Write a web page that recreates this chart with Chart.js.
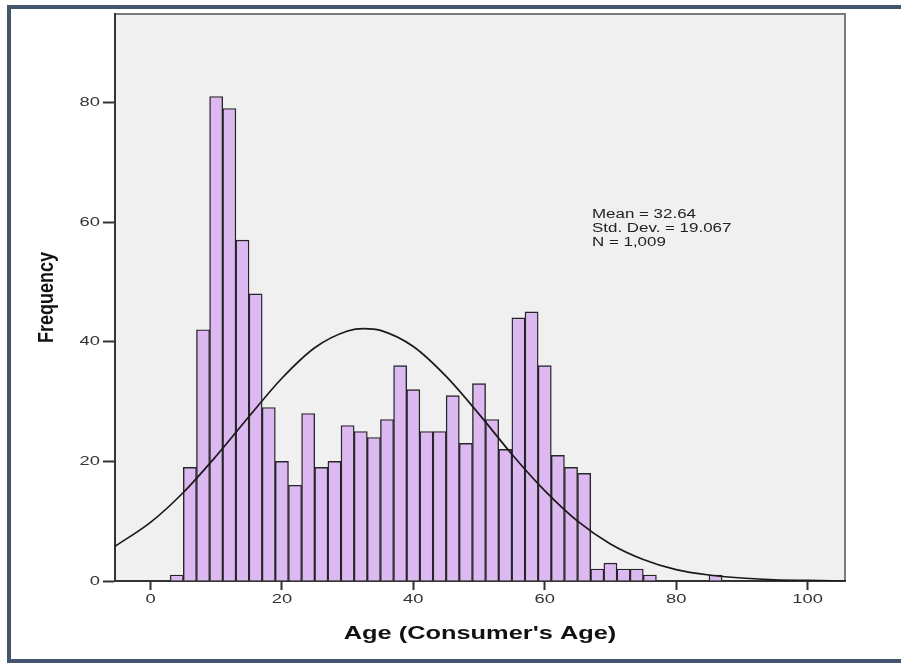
<!DOCTYPE html>
<html>
<head>
<meta charset="utf-8">
<script src="https://cdn.jsdelivr.net/npm/chart.js@4/dist/chart.umd.min.js"></script>
<style>
    html, body { margin: 0; padding: 0; background: #ffffff; }
    #wrap { position: relative; width: 901px; height: 664px; overflow: hidden; }
    #frame {
        position: absolute; left: 7px; top: 5px; width: 894px; height: 650px;
        border-top: 4px solid #44566c; border-left: 4px solid #44566c; border-bottom: 4px solid #44566c;
        box-sizing: content-box; pointer-events: none;
    }
    canvas { position: absolute; left: 0; top: 0; }
</style>
</head>
<body>
<div id="wrap">
    <canvas id="histChart" width="901" height="664"></canvas>
    <div id="frame"></div>
</div>
<script>
// 2-year bins, left edge of each bin
const binStarts = [3, 5, 7, 9, 11, 13, 15, 17, 19, 21, 23, 25, 27, 29, 31, 33, 35, 37, 39, 41,
                   43, 45, 47, 49, 51, 53, 55, 57, 59, 61, 63, 65, 67, 69, 71, 73, 75, 77, 79, 81, 83, 85];
const counts = [1, 19, 42, 81, 79, 57, 48, 29, 20, 16, 28, 19, 20, 26, 25, 24, 27, 36, 32, 25,
                25, 31, 23, 33, 27, 22, 44, 45, 36, 21, 19, 18, 2, 3, 2, 2, 1, 0, 0, 0, 0, 1];

// normal curve
const curveAge = [-5.4, 0, 5, 10, 15, 20, 25, 30, 32.5, 35, 40, 45, 50, 55, 60, 65, 70, 75, 80, 85, 90, 95, 100, 105.7];
const curveFreq = [5.8, 9.8, 14.8, 20.9, 27.5, 33.9, 39.0, 41.8, 42.2, 41.9, 39.2, 34.2, 27.9, 21.2, 15.1, 10.0, 6.2, 3.6, 1.9, 1.0, 0.5, 0.2, 0.1, 0.0];

const xTicks = [0, 20, 40, 60, 80, 100];
const yTicks = [0, 20, 40, 60, 80];

const xTitle = "Age (Consumer's Age)";
const yTitle = "Frequency";
const statLines = ["Mean = 32.64", "Std. Dev. = 19.067", "N = 1,009"];

// the source picture is stretched sideways, so its text is too
const STRETCH = 1.41;
const FONT = "'Liberation Sans', Arial, sans-serif";

function wideText(ctx, text, x, y, align) {
    ctx.save();
    ctx.translate(x, y);
    ctx.scale(STRETCH, 1);
    ctx.textAlign = align;
    ctx.fillText(text, 0, 0);
    ctx.restore();
}

const plotFrame = {
    id: "plotFrame",
    beforeDraw(chart) {
        const { ctx, chartArea: a } = chart;
        ctx.save();
        ctx.fillStyle = "#f0f0f0";
        ctx.fillRect(a.left, a.top, a.right - a.left, a.bottom - a.top);
        ctx.strokeStyle = "#7a7a7a";
        ctx.lineWidth = 2;
        ctx.strokeRect(a.left, a.top, a.right - a.left, a.bottom - a.top);
        ctx.restore();
    },
    afterDraw(chart) {
        const { ctx, chartArea: a } = chart;
        const xs = chart.scales.x;
        const ys = chart.scales.y;
        ctx.save();
        ctx.textBaseline = "middle";

        // tick labels
        ctx.fillStyle = "#333";
        ctx.font = "13px " + FONT;
        xTicks.forEach(v => wideText(ctx, String(v), xs.getPixelForValue(v), a.bottom + 18, "center"));
        yTicks.forEach(v => wideText(ctx, String(v), a.left - 15, ys.getPixelForValue(v), "right"));

        // axis titles
        ctx.fillStyle = "#111";
        ctx.font = "bold 18px " + FONT;
        wideText(ctx, xTitle, (a.left + a.right) / 2, a.bottom + 53, "center");

        ctx.save();
        ctx.translate(a.left - 68, (a.top + a.bottom) / 2);
        ctx.rotate(-Math.PI / 2);
        ctx.scale(1, 1.2);
        ctx.textAlign = "center";
        ctx.fillText(yTitle, 0, 0);
        ctx.restore();

        // summary box
        ctx.fillStyle = "#222";
        ctx.font = "12px " + FONT;
        statLines.forEach((t, i) => wideText(ctx, t, a.left + 477, a.top + 201 + i * 14, "left"));

        ctx.restore();
    }
};

new Chart(document.getElementById("histChart"), {
    data: {
        datasets: [
            {
                type: "line",
                data: curveAge.map((x, i) => ({ x: x, y: curveFreq[i] })),
                borderColor: "#1a1a1a",
                borderWidth: 1.7,
                pointRadius: 0,
                cubicInterpolationMode: "monotone",
                fill: false,
                order: 0
            },
            {
                type: "bar",
                data: binStarts.map((b, i) => ({ x: b + 1, y: counts[i] })),
                backgroundColor: "rgb(221, 185, 242)",
                borderColor: "#262626",
                borderWidth: 1.4,
                barPercentage: 1,
                categoryPercentage: 1,
                grouped: false,
                order: 1
            }
        ]
    },
    options: {
        responsive: false,
        animation: false,
        layout: {
            padding: { left: 0, top: 14, right: 56, bottom: 0 }
        },
        plugins: {
            legend: { display: false },
            tooltip: { enabled: false }
        },
        scales: {
            x: {
                type: "linear",
                min: -5.4,
                max: 105.7,
                offset: false,
                afterFit: s => { s.height = 83; },
                afterBuildTicks: s => { s.ticks = xTicks.map(v => ({ value: v })); },
                grid: {
                    offset: false,
                    drawOnChartArea: false,
                    drawTicks: true,
                    tickLength: 9,
                    tickWidth: 2,
                    color: "#333"
                },
                border: { display: true, color: "#333", width: 2 },
                ticks: { display: false },
                title: { display: false }
            },
            y: {
                min: 0,
                max: 94.8,
                afterFit: s => { s.width = 115; },
                afterBuildTicks: s => { s.ticks = yTicks.map(v => ({ value: v })); },
                grid: {
                    drawOnChartArea: false,
                    drawTicks: true,
                    tickLength: 12,
                    tickWidth: 2,
                    color: "#333"
                },
                border: { display: true, color: "#333", width: 2 },
                ticks: { display: false },
                title: { display: false }
            }
        }
    },
    plugins: [plotFrame]
});
</script>
</body>
</html>
